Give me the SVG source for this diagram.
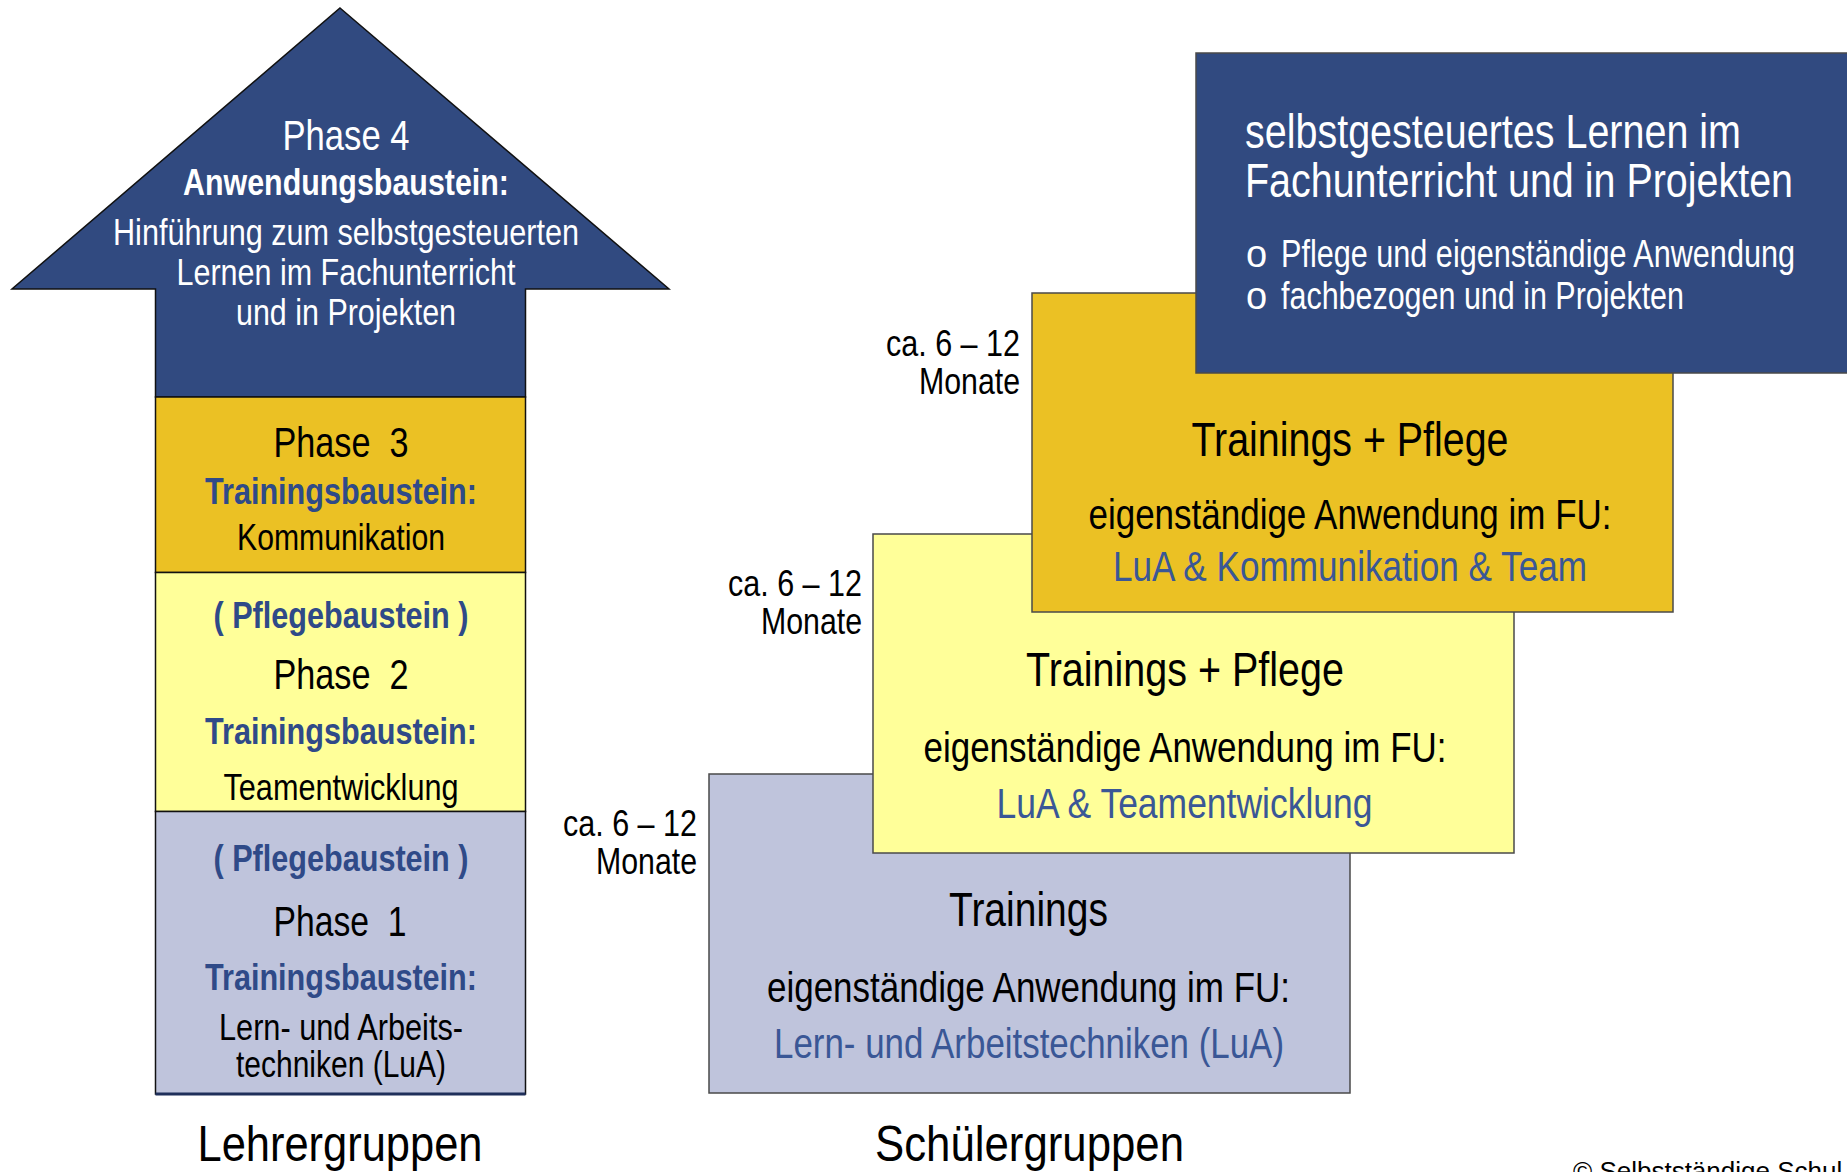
<svg xmlns="http://www.w3.org/2000/svg" width="1847" height="1172" viewBox="0 0 1847 1172">
<style>
text{font-family:'Liberation Sans Narrow','Liberation Sans',Arial,sans-serif;}
.m{text-anchor:middle;}
.r{text-anchor:end;}
.w{fill:#ffffff;}
.k{fill:#000000;}
.b{fill:#2F4A88;font-weight:bold;}
.bl{fill:#3A5796;}
.box{stroke:#4a4a4a;stroke-width:1.5;}
</style>
<rect width="1847" height="1172" fill="#ffffff"/>

<!-- Left column -->
<g id="phase4">
<polygon points="340,8 669,289 525.5,289 525.5,397 155.5,397 155.5,289 12,289" fill="#314A80" stroke="#111" stroke-width="1.5"/>
<text class="w m" x="346" y="150" font-size="42" textLength="127" lengthAdjust="spacingAndGlyphs">Phase 4</text>
<text class="w m" x="346" y="195" font-size="37" font-weight="bold" textLength="326" lengthAdjust="spacingAndGlyphs">Anwendungsbaustein:</text>
<text class="w m" x="346" y="245" font-size="37" textLength="466" lengthAdjust="spacingAndGlyphs">Hinführung zum selbstgesteuerten</text>
<text class="w m" x="346" y="285" font-size="37" textLength="339" lengthAdjust="spacingAndGlyphs">Lernen im Fachunterricht</text>
<text class="w m" x="346" y="325" font-size="37" textLength="220" lengthAdjust="spacingAndGlyphs">und in Projekten</text>
</g>
<g id="phase3">
<rect x="155.5" y="397" width="370" height="175.5" fill="#EBC124" stroke="#111" stroke-width="1.5"/>
<text class="k m" x="341" y="457" font-size="42" textLength="135" lengthAdjust="spacingAndGlyphs" xml:space="preserve">Phase  3</text>
<text class="b m" x="341" y="504" font-size="37" textLength="272" lengthAdjust="spacingAndGlyphs">Trainingsbaustein:</text>
<text class="k m" x="341" y="550" font-size="37" textLength="208" lengthAdjust="spacingAndGlyphs">Kommunikation</text>
</g>
<g id="phase2">
<rect x="155.5" y="572.5" width="370" height="239" fill="#FFFF99" stroke="#111" stroke-width="1.5"/>
<text class="b m" x="341" y="628" font-size="37" textLength="255" lengthAdjust="spacingAndGlyphs">( Pflegebaustein )</text>
<text class="k m" x="341" y="689" font-size="42" textLength="135" lengthAdjust="spacingAndGlyphs" xml:space="preserve">Phase  2</text>
<text class="b m" x="341" y="744" font-size="37" textLength="272" lengthAdjust="spacingAndGlyphs">Trainingsbaustein:</text>
<text class="k m" x="341" y="800" font-size="37" textLength="235" lengthAdjust="spacingAndGlyphs">Teamentwicklung</text>
</g>
<g id="phase1">
<rect x="155.5" y="811.5" width="370" height="282.5" fill="#BFC4DC" stroke="#111" stroke-width="1.5"/>
<line x1="155.5" y1="1094" x2="525.5" y2="1094" stroke="#1F2F5A" stroke-width="3"/>
<text class="b m" x="341" y="871" font-size="37" textLength="255" lengthAdjust="spacingAndGlyphs">( Pflegebaustein )</text>
<text class="k m" x="340" y="936" font-size="42" textLength="133" lengthAdjust="spacingAndGlyphs" xml:space="preserve">Phase  1</text>
<text class="b m" x="341" y="990" font-size="37" textLength="272" lengthAdjust="spacingAndGlyphs">Trainingsbaustein:</text>
<text class="k m" x="341" y="1040" font-size="37" textLength="244" lengthAdjust="spacingAndGlyphs">Lern- und Arbeits-</text>
<text class="k m" x="341" y="1077" font-size="37" textLength="210" lengthAdjust="spacingAndGlyphs">techniken (LuA)</text>
</g>
<g id="label-lehrer">
<text class="k m" x="340" y="1161" font-size="50" textLength="285" lengthAdjust="spacingAndGlyphs">Lehrergruppen</text>
</g>

<!-- Right staircase -->
<g id="step1">
<rect class="box" x="709" y="774" width="641" height="319" fill="#BFC4DC"/>
<text class="k m" x="1028.5" y="926" font-size="49" textLength="159" lengthAdjust="spacingAndGlyphs">Trainings</text>
<text class="k m" x="1028.5" y="1002" font-size="42" textLength="523" lengthAdjust="spacingAndGlyphs">eigenständige Anwendung im FU:</text>
<text class="bl m" x="1029" y="1058" font-size="42" textLength="510" lengthAdjust="spacingAndGlyphs">Lern- und Arbeitstechniken (LuA)</text>
<text class="k r" x="697" y="836" font-size="37" textLength="134" lengthAdjust="spacingAndGlyphs">ca. 6 – 12</text>
<text class="k r" x="697" y="874" font-size="37" textLength="101" lengthAdjust="spacingAndGlyphs">Monate</text>
</g>
<g id="step2">
<rect class="box" x="873" y="534" width="641" height="319" fill="#FFFF99"/>
<text class="k m" x="1185" y="686" font-size="49" textLength="318" lengthAdjust="spacingAndGlyphs">Trainings + Pflege</text>
<text class="k m" x="1185" y="762" font-size="42" textLength="523" lengthAdjust="spacingAndGlyphs">eigenständige Anwendung im FU:</text>
<text class="bl m" x="1184.5" y="818" font-size="42" textLength="376" lengthAdjust="spacingAndGlyphs">LuA &amp; Teamentwicklung</text>
<text class="k r" x="862" y="596" font-size="37" textLength="134" lengthAdjust="spacingAndGlyphs">ca. 6 – 12</text>
<text class="k r" x="862" y="634" font-size="37" textLength="101" lengthAdjust="spacingAndGlyphs">Monate</text>
</g>
<g id="step3">
<rect class="box" x="1032" y="293" width="641" height="319" fill="#EBC124"/>
<text class="k m" x="1350" y="456" font-size="49" textLength="317" lengthAdjust="spacingAndGlyphs">Trainings + Pflege</text>
<text class="k m" x="1350" y="529" font-size="42" textLength="523" lengthAdjust="spacingAndGlyphs">eigenständige Anwendung im FU:</text>
<text class="bl m" x="1350" y="581" font-size="42" textLength="474" lengthAdjust="spacingAndGlyphs">LuA &amp; Kommunikation &amp; Team</text>
<text class="k r" x="1020" y="356" font-size="37" textLength="134" lengthAdjust="spacingAndGlyphs">ca. 6 – 12</text>
<text class="k r" x="1020" y="394" font-size="37" textLength="101" lengthAdjust="spacingAndGlyphs">Monate</text>
</g>
<g id="step4">
<rect class="box" x="1196" y="53" width="652" height="320" fill="#314A80"/>
<text class="w" x="1245" y="148" font-size="48" textLength="496" lengthAdjust="spacingAndGlyphs">selbstgesteuertes Lernen im</text>
<text class="w" x="1245" y="197" font-size="48" textLength="548" lengthAdjust="spacingAndGlyphs">Fachunterricht und in Projekten</text>
<text class="w" x="1246" y="267" font-size="38">o</text>
<text class="w" x="1281" y="267" font-size="38" textLength="514" lengthAdjust="spacingAndGlyphs">Pflege und eigenständige Anwendung</text>
<text class="w" x="1246" y="309" font-size="38">o</text>
<text class="w" x="1281" y="309" font-size="38" textLength="403" lengthAdjust="spacingAndGlyphs">fachbezogen und in Projekten</text>
</g>
<g id="label-schueler">
<text class="k m" x="1029.5" y="1161" font-size="50" textLength="309" lengthAdjust="spacingAndGlyphs">Schülergruppen</text>
</g>
<g id="copyright">
<text x="1573" y="1180" font-size="26" style="font-family:'Liberation Sans',Arial,sans-serif" fill="#000">© Selbstständige Schul</text>
</g>
</svg>
